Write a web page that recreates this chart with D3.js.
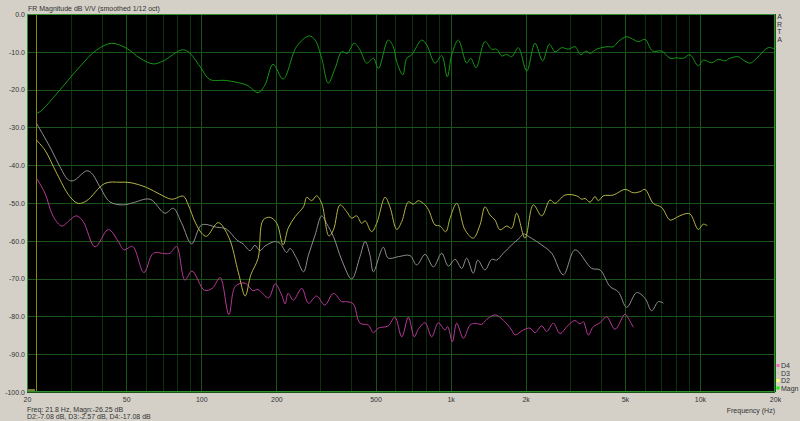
<!DOCTYPE html>
<html><head><meta charset="utf-8">
<script src="https://cdn.jsdelivr.net/npm/d3@7"></script>
<style>
html,body{margin:0;padding:0;background:#d4d0c8;overflow:hidden}
svg{display:block}
</style></head><body>
<svg id="c" width="800" height="421"></svg>
<script>
// ---- data: [frequency Hz, level dB] ----
const magn = [[21.8,-26.25],[22.6,-25.8],[27.1,-20.1],[32.6,-13.9],[38.1,-9.5],[43.7,-7.75],[50.2,-9.1],[56.8,-11.7],[64.2,-13.2],[70.4,-12.4],[83.5,-9.5],[88.7,-10.0],[98.9,-13.9],[108,-17.3],[126,-17.6],[152,-18.8],[169,-20.8],[180,-18.8],[194,-13.3],[213,-17.2],[241,-8.65],[271,-5.8],[286,-6.9],[304,-11.7],[323,-18.3],[344,-14.4],[366,-10.0],[385,-10.4],[410,-7.75],[433,-9.5],[461,-13.0],[490,-11.7],[513,-14.4],[562,-6.9],[589,-8.65],[608,-12.6],[643,-16.1],[667,-11.7],[698,-10.8],[766,-6.9],[802,-8.2],[866,-13.0],[921,-11.0],[970,-16.6],[1010,-10.8],[1074,-6.9],[1160,-13.0],[1204,-11.7],[1264,-14.2],[1374,-7.3],[1461,-9.3],[1530,-9.3],[1603,-11.1],[1679,-10.7],[1758,-11.3],[1869,-8.9],[2019,-15.1],[2180,-7.75],[2340,-12.4],[2488,-8.0],[2624,-10.0],[2790,-8.9],[2966,-9.3],[3155,-8.65],[3326,-10.8],[3492,-9.8],[3624,-10.4],[3854,-9.3],[4227,-8.65],[4492,-8.65],[4706,-7.3],[5084,-6.0],[5660,-7.3],[6020,-6.7],[6464,-9.8],[7024,-9.8],[7586,-11.7],[8070,-11.6],[8577,-11.7],[9122,-10.8],[9850,-13.7],[10316,-12.2],[11146,-12.9],[11846,-12.0],[12604,-12.4],[13200,-11.7],[14252,-11.3],[14926,-12.2],[15878,-13.0],[16890,-11.7],[18802,-8.9],[20000,-9.3]];

const d2 = [[21.8,-33.33],[23.6,-36.0],[26.3,-42.1],[29.7,-48.3],[32.1,-50.1],[34.7,-49.4],[41.1,-44.8],[47.2,-44.5],[51.8,-44.6],[60.4,-45.9],[68.3,-47.7],[76.1,-49.0],[84.7,-48.2],[88.7,-50.5],[94.4,-55.0],[100.4,-58.0],[105,-58.8],[117,-55.2],[129,-59.1],[141,-68.5],[150,-74.6],[158,-69.0],[169,-64.6],[177,-54.5],[189,-53.8],[201,-55.4],[213,-61.1],[223,-56.7],[238,-53.6],[257,-51.0],[265,-48.5],[277,-49.4],[290,-48.1],[304,-50.1],[325,-58.7],[339,-57.1],[360,-50.5],[383,-52.3],[401,-54.0],[420,-53.4],[440,-55.4],[454,-54.7],[482,-57.6],[505,-55.4],[546,-48.5],[571,-51.0],[608,-57.0],[637,-54.9],[677,-49.7],[709,-50.3],[742,-49.4],[777,-50.1],[814,-51.7],[866,-55.8],[907,-56.1],[956,-57.6],[995,-54.0],[1058,-50.1],[1142,-57.1],[1233,-59.3],[1312,-55.8],[1374,-51.0],[1439,-53.2],[1507,-54.5],[1578,-57.1],[1679,-56.1],[1758,-56.7],[1841,-52.7],[1988,-59.3],[2146,-50.5],[2320,-53.4],[2504,-49.2],[2624,-50.1],[2876,-47.9],[3204,-48.1],[3356,-49.0],[3460,-48.8],[3624,-49.8],[3794,-48.3],[3912,-49.4],[4096,-48.1],[4492,-47.9],[5004,-46.4],[5404,-47.3],[5748,-47.0],[6020,-46.4],[6500,-50.1],[7024,-51.2],[7586,-54.5],[8070,-53.8],[8577,-53.0],[9122,-52.9],[9850,-57.0],[10316,-55.6],[10704,-56.0]];

const d3s = [[21.8,-28.82],[23.6,-32.8],[25.1,-36.0],[27.1,-40.4],[29.3,-43.9],[30.7,-44.1],[34.7,-41.5],[36.3,-42.1],[39.2,-45.7],[43.0,-49.7],[48.7,-50.5],[53.4,-49.9],[62.3,-49.0],[71.5,-52.7],[77.2,-51.4],[83.5,-55.4],[91.5,-60.8],[100.4,-55.8],[115,-56.4],[126,-56.9],[139,-59.8],[147,-60.8],[157,-62.6],[164,-61.2],[172,-62.6],[180,-61.4],[198,-60.2],[207,-60.7],[220,-63.1],[227,-62.0],[241,-64.6],[257,-68.2],[269,-63.8],[286,-58.5],[304,-53.4],[318,-55.4],[339,-58.9],[366,-65.1],[401,-70.1],[433,-64.2],[454,-60.2],[475,-63.8],[490,-68.2],[537,-61.7],[562,-64.6],[617,-64.2],[687,-63.9],[731,-66.4],[790,-63.6],[853,-66.9],[921,-63.3],[979,-66.7],[1042,-64.9],[1108,-67.3],[1160,-64.6],[1233,-68.6],[1285,-65.1],[1374,-67.7],[1461,-64.9],[1530,-65.1],[1627,-63.3],[1758,-61.1],[1898,-59.1],[1957,-58.2],[2082,-59.1],[2320,-61.1],[2544,-63.3],[2832,-69.0],[3155,-62.4],[3680,-67.3],[3974,-67.7],[4358,-72.1],[4706,-73.5],[5084,-77.6],[5576,-73.7],[6020,-75.2],[6404,-78.5],[6808,-76.1],[7132,-76.5]];

const d4 = [[21.8,-43.33],[23.6,-47.4],[25.5,-53.6],[27.6,-56.1],[29.7,-54.5],[31.6,-53.4],[33.6,-54.9],[37.5,-61.6],[42.4,-57.0],[46.5,-60.2],[49.0,-62.4],[53.0,-61.5],[58.9,-68.4],[64.2,-63.3],[71.5,-63.4],[74.9,-63.3],[79.6,-61.5],[86.0,-70.4],[91.8,-68.0],[103,-73.1],[111,-72.5],[119,-69.7],[129,-79.5],[137,-72.0],[150,-71.2],[161,-73.2],[169,-72.9],[186,-75.1],[198,-71.4],[210,-74.3],[217,-76.7],[223,-73.9],[234,-75.7],[253,-72.6],[269,-76.5],[290,-74.6],[313,-77.0],[339,-73.9],[366,-76.1],[383,-76.1],[407,-76.7],[433,-81.8],[468,-82.3],[490,-84.3],[513,-83.1],[562,-82.5],[598,-80.2],[637,-85.4],[677,-80.2],[715,-85.4],[742,-83.4],[790,-81.7],[840,-85.4],[892,-81.7],[950,-83.6],[974,-82.7],[1016,-86.7],[1058,-81.8],[1125,-85.8],[1196,-82.3],[1253,-81.8],[1332,-82.1],[1395,-80.8],[1507,-79.6],[1627,-81.0],[1758,-83.6],[1813,-84.9],[1957,-83.6],[2082,-83.1],[2180,-84.3],[2320,-82.5],[2430,-84.0],[2582,-81.8],[2746,-84.5],[2966,-82.3],[3155,-81.1],[3304,-82.0],[3406,-81.4],[3568,-84.9],[3736,-82.7],[3974,-81.7],[4227,-80.1],[4564,-83.4],[5004,-79.4],[5160,-80.5],[5404,-82.9]];

const xTickValues = [20,50,100,200,500,1000,2000,5000,10000,20000];
const xTickLabels = ['20','50','100','200','500','1k','2k','5k','10k','20k'];
const yTickValues = [0,-10,-20,-30,-40,-50,-60,-70,-80,-90,-100];
const legendNames = ['D4','D3','D2','Magn'];
const cursorFreq = 21.8;
const titleText = 'FR Magnitude dB V/V (smoothed 1/12 oct)';
const readout1 = 'Freq: 21.8 Hz, Magn:-26.25 dB';
const readout2 = 'D2:-7.08 dB, D3:-2.57 dB, D4:-17.08 dB';

// ---- layout / style ----
const W = 800, H = 421, L = 27, R = 775, T = 14, B = 392;
const FONT = '"Liberation Sans", Arial, sans-serif';
const TXT = '#333';
const series = [
  {name:'D4', data:d4, color:'#b8389a', mark:'#ff60c8'},
  {name:'D3', data:d3s, color:'#8e8e8e', mark:'#c8c8c8'},
  {name:'D2', data:d2, color:'#b4b444', mark:'#ffff70'},
  {name:'Magn', data:magn, color:'#169616', mark:'#00ff00'}
];

const svg = d3.select('#c');
svg.append('rect').attr('width', W).attr('height', H).attr('fill', '#d4d0c8');

const x = d3.scaleLog().domain([20, 20000]).range([L, R]);
const y = d3.scaleLinear().domain([0, -100]).range([T, B]);

svg.append('rect').attr('x', L).attr('y', T).attr('width', R - L).attr('height', B - T).attr('fill', '#000');

const px = v => Math.round(v) + 0.5;
const grid = svg.append('g');
const majorSet = new Set(xTickValues);
x.ticks().forEach(f => {
  grid.append('line')
    .attr('x1', px(x(f))).attr('x2', px(x(f)))
    .attr('y1', T).attr('y2', B)
    .attr('stroke', majorSet.has(f) ? '#175617' : '#0c300c')
    .attr('stroke-width', 1);
});
yTickValues.forEach(v => {
  grid.append('line')
    .attr('x1', L).attr('x2', R)
    .attr('y1', px(y(v))).attr('y2', px(y(v)))
    .attr('stroke', '#1a541a').attr('stroke-width', 1);
});

// cursor
svg.append('line')
  .attr('x1', px(x(cursorFreq))).attr('x2', px(x(cursorFreq)))
  .attr('y1', T).attr('y2', B)
  .attr('stroke', '#8f8218').attr('stroke-width', 1);
svg.append('rect').attr('x', L + 1).attr('y', B - 3).attr('width', 7).attr('height', 2).attr('fill', '#7d7a30');

// curves
svg.append('clipPath').attr('id', 'clip').append('rect')
  .attr('x', L).attr('y', T).attr('width', R - L).attr('height', B - T);
const line = d3.line().x(d => x(d[0])).y(d => y(d[1])).curve(d3.curveCatmullRom.alpha(0.5));
const cg = svg.append('g').attr('clip-path', 'url(#clip)');
series.forEach(s => {
  cg.append('path').attr('d', line(s.data)).attr('fill', 'none')
    .attr('stroke', s.color).attr('stroke-width', 1).attr('stroke-linejoin', 'round');
});

// frame
svg.append('rect').attr('x', L + 0.5).attr('y', T + 0.5).attr('width', R - L - 1).attr('height', B - T - 1)
  .attr('fill', 'none').attr('stroke', '#2e8e2e').attr('stroke-width', 1);

// axes
const ya = svg.append('g').attr('transform', `translate(${L},0)`)
  .call(d3.axisLeft(y).tickValues(yTickValues).tickSize(0).tickPadding(2).tickFormat(d => d.toFixed(1)));
ya.select('.domain').remove();
ya.attr('font-family', FONT).attr('font-size', 7);
ya.selectAll('text').attr('fill', TXT);

const xa = svg.append('g').attr('transform', `translate(0,${B})`)
  .call(d3.axisBottom(x).tickValues(xTickValues).tickSize(0).tickPadding(5)
    .tickFormat((d, i) => xTickLabels[i]));
xa.select('.domain').remove();
xa.attr('font-family', FONT).attr('font-size', 7);
xa.selectAll('text').attr('fill', TXT);

const txt = (s, tx, ty, anchor) => svg.append('text').text(s).attr('x', tx).attr('y', ty)
  .attr('font-family', FONT).attr('font-size', 7).attr('fill', TXT).attr('text-anchor', anchor || 'start');

txt(titleText, L + 1, 10.5);
txt('Frequency (Hz)', R, 412.5, 'end');
txt(readout1, L, 411.5);
txt(readout2, L, 418.8);

// ARTA
['A','R','T','A'].forEach((c, i) => txt(c, 779.5, 19 + i * 7.5, 'middle'));

// legend
const legY = d3.scalePoint().domain(legendNames).range([365.5, 388]);
series.forEach(s => {
  svg.append('rect').attr('x', 776.5).attr('y', legY(s.name) - 1.5).attr('width', 3).attr('height', 3).attr('fill', s.mark);
  txt(s.name, 781, legY(s.name) + 2.5);
});
</script>
</body></html>
